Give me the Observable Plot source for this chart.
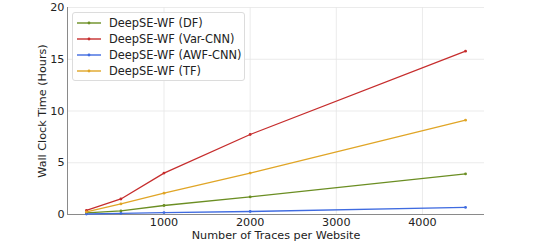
<!DOCTYPE html>
<html>
<head>
<meta charset="utf-8">
<script src="https://cdn.jsdelivr.net/npm/d3@7"></script>
<script src="https://cdn.jsdelivr.net/npm/@observablehq/plot@0.6"></script>
<style>
  html, body { margin: 0; padding: 0; background: #fff; }
  #wrap { position: relative; width: 538px; height: 244px; font-family: "DejaVu Sans", sans-serif; }
  #legend { position: absolute; left: 72px; top: 12px; width: 173px; height: 69px; box-sizing: border-box;
    border: 1px solid #dcdcdc; border-radius: 3px; background: rgba(255,255,255,0.85); padding: 2px 0 0 4px; }
  .item { display: flex; align-items: center; height: 16px; font-size: 11.4px; color: #222; white-space: nowrap; }
  .item svg { margin-right: 8px; flex: none; }
</style>
</head>
<body>
<div id="wrap"><div id="legend"></div></div>
<script>
const traces = [100, 500, 1000, 2000, 4500];
const seriesNames = ["DeepSE-WF (DF)", "DeepSE-WF (Var-CNN)", "DeepSE-WF (AWF-CNN)", "DeepSE-WF (TF)"];
const seriesColors = ["#6b8e23", "#c62d2d", "#3f6be0", "#e0a526"];
const dfHours = [0.15, 0.35, 0.87, 1.7, 3.92];
const varCnnHours = [0.4, 1.5, 4.0, 7.73, 15.78];
const awfCnnHours = [0.05, 0.1, 0.19, 0.29, 0.68];
const tfHours = [0.25, 1.02, 2.06, 4.0, 9.11];
const yTicks = [0, 5, 10, 15, 20];
const xTicks = [1000, 2000, 3000, 4000];

const seriesValues = [dfHours, varCnnHours, awfCnnHours, tfHours];
const data = seriesNames.flatMap((name, i) =>
  traces.map((t, j) => ({series: name, traces: t, hours: seriesValues[i][j]})));

const chart = Plot.plot({
  width: 538,
  height: 244,
  marginLeft: 67,
  marginRight: 54,
  marginTop: 7,
  marginBottom: 30,
  style: {fontFamily: "DejaVu Sans, sans-serif", fontSize: "11.2px", color: "#222", background: "transparent"},
  x: {domain: [-120, 4720]},
  y: {domain: [0, 20]},
  color: {domain: seriesNames, range: seriesColors},
  marks: [
    Plot.gridX(xTicks, {stroke: "#e6e6e6", strokeOpacity: 1, strokeWidth: 0.8}),
    Plot.gridY(yTicks, {stroke: "#e6e6e6", strokeOpacity: 1, strokeWidth: 0.8}),
    Plot.axisX(xTicks, {tickSize: 0, tickPadding: 4, tickFormat: d => String(d), label: "Number of Traces per Website",
      labelAnchor: "center", labelArrow: "none", labelOffset: 24, fontSize: "11.2px"}),
    Plot.axisY(yTicks, {tickSize: 0, tickPadding: 3, label: "Wall Clock Time (Hours)",
      labelAnchor: "center", labelArrow: "none", labelOffset: 29, fontSize: "11.2px"}),
    Plot.ruleX([-120], {stroke: "#8a8a8a", strokeWidth: 1}),
    Plot.ruleY([0], {stroke: "#8a8a8a", strokeWidth: 1}),
    Plot.line(data, {x: "traces", y: "hours", stroke: "series", strokeWidth: 1.3}),
    Plot.dot(data, {x: "traces", y: "hours", fill: "series", r: 1.4})
  ]
});
document.getElementById("wrap").prepend(chart);

const legend = document.getElementById("legend");
seriesNames.forEach((name, i) => {
  const div = document.createElement("div");
  div.className = "item";
  div.innerHTML = `<svg width="24" height="6"><line x1="0" y1="3" x2="24" y2="3" stroke="${seriesColors[i]}" stroke-width="1.4"/><circle cx="12" cy="3" r="1.4" fill="${seriesColors[i]}"/></svg><span>${name}</span>`;
  legend.appendChild(div);
});
</script>
</body>
</html>
